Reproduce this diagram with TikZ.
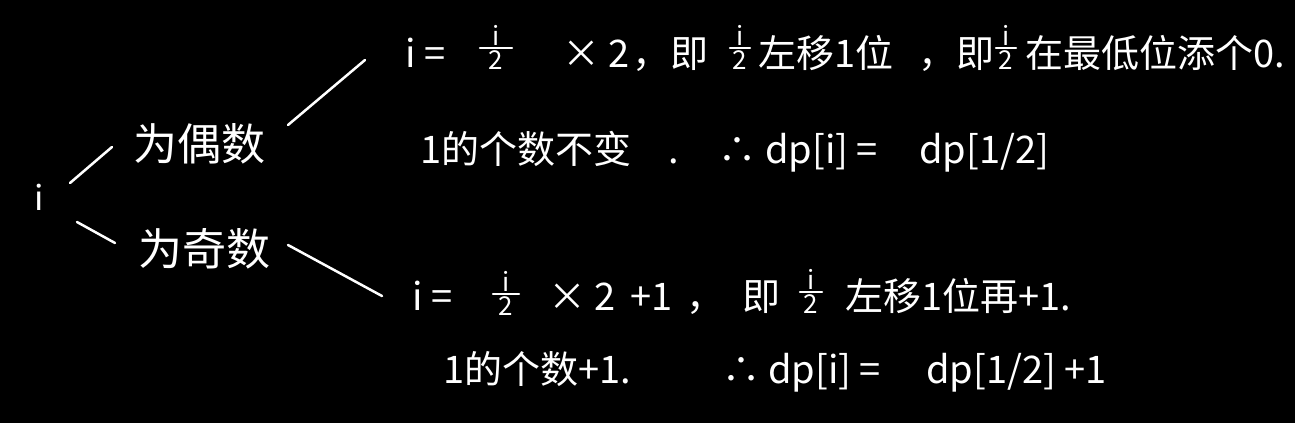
\documentclass[tikz,border=0pt]{standalone}
\usepackage{fontspec}
\setmainfont{Noto Sans CJK SC}
\begin{document}
\begin{tikzpicture}[x=1pt,y=-1pt,
  t/.style={text=white,inner sep=0pt,anchor=base west,font=\fontsize{38}{44}\selectfont},
  big/.style={t,font=\fontsize{44}{50}\selectfont},
  sm/.style={text=white,inner sep=0pt,font=\fontsize{26}{28}\selectfont},
  ln/.style={draw=white,line width=2.5pt,line cap=round},
  bar/.style={draw=white,line width=2.2pt,line cap=round}]
\fill[black] (0,0) rectangle (1295,423);
\useasboundingbox (0,0) rectangle (1295,423);
\newcommand\hwfrac[4]{%
  \node[sm,anchor=south] (#1n) at (#2,#3-2.5) {i};
  \node[sm,anchor=north] (#1d) at (#2,#3+2.5) {2};
  \coordinate (#1l) at (#2-#4,#3); \coordinate (#1r) at (#2+#4,#3);
  \draw[bar] (#1l) -- (#1r);}
% left tree
\node[t,font=\fontsize{34}{40}\selectfont] (i) at (34,210) {i};
\node[big] (even) at (133,160) {为偶数};
\node[big] (odd) at (138,265) {为奇数};
\coordinate (a1) at (70,183); \coordinate (a2) at (112,147);
\coordinate (b1) at (288,125); \coordinate (b2) at (365,60);
\coordinate (c1) at (77,222); \coordinate (c2) at (115,243);
\coordinate (d1) at (288,245); \coordinate (d2) at (382,296);
\draw[ln] (a1) -- (a2);
\draw[ln] (b1) -- (b2);
\draw[ln] (c1) -- (c2);
\draw[ln] (d1) -- (d2);
% line 1
\node[t] (l1a) at (405,67) {i =};
\hwfrac{f1}{496}{48}{16}
\node[t] (l1c) at (562,67) {× 2};
\node[t] (l1d) at (632,67) {，即};
\hwfrac{f2}{740}{48}{10}
\node[t] (l1f) at (758,67) {左移1位};
\node[t] (l1g) at (918,67) {，即};
\hwfrac{f3}{1006}{48}{10}
\node[t] (l1i) at (1025,67) {在最低位添个0.};
% line 2
\node[t] (l2a) at (420,163) {1的个数不变};
\node[t] (l2b) at (668,163) {.};
\node[t] (l2c) at (718,163) {∴};
\node[t] (l2d) at (765,163) {dp[i] =};
\node[t] (l2e) at (919,163) {dp[1/2]};
% line 3
\node[t] (l3a) at (412,310) {i =};
\hwfrac{f4}{506}{294}{13}
\node[t] (l3c) at (548,310) {× 2};
\node[t] (l3d) at (630,310) {+1};
\node[t] (l3e) at (686,310) {，};
\node[t] (l3f) at (742,310) {即};
\hwfrac{f5}{811}{292}{11}
\node[t] (l3h) at (845,310) {左移1位再+1.};
% line 4
\node[t] (l4a) at (443,383) {1的个数+1.};
\node[t] (l4b) at (722,383) {∴};
\node[t] (l4c) at (768,383) {dp[i] =};
\node[t] (l4d) at (926,383) {dp[1/2] +1};
\end{tikzpicture}
\end{document}
